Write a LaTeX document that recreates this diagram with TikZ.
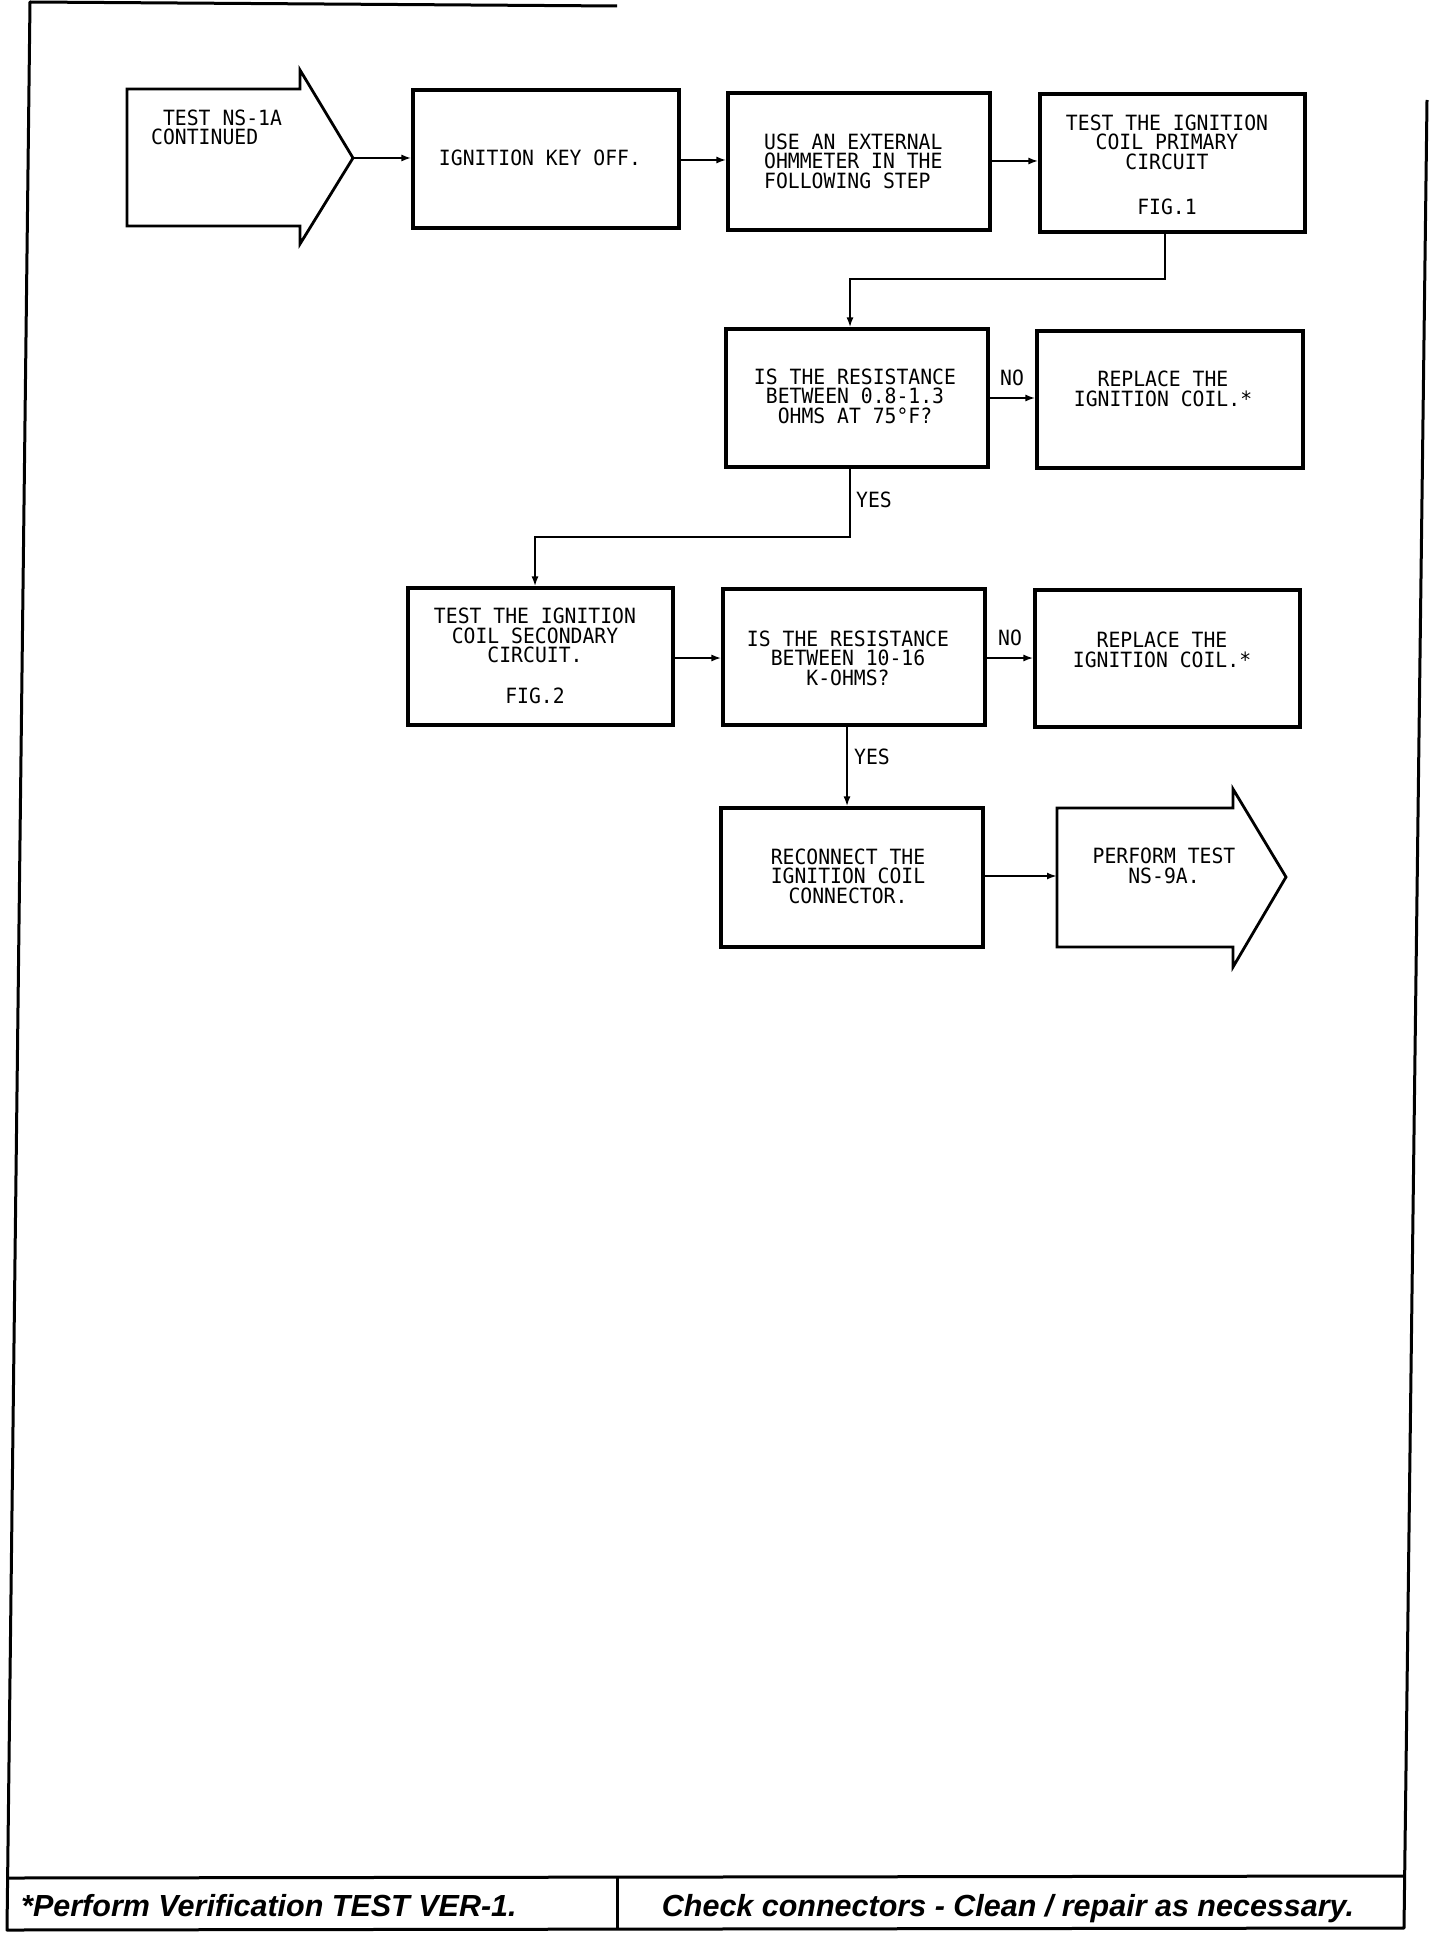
\documentclass[tikz,border=0pt]{standalone}
\usepackage{fontspec}
\newfontfamily\plotfont[FakeStretch=0.94]{DejaVu Sans Mono}
\newfontfamily\footfont{Liberation Sans}
\usetikzlibrary{arrows.meta}
\tikzset{
  frameline/.style={line width=3pt, line join=round},
  stepbox/.style={draw, line width=3.1pt, rectangle, inner sep=0pt},
  bigarrow/.style={draw, line width=2.8pt, line join=miter},
  txt/.style={inner sep=0pt, align=center, font=\plotfont\fontsize{21}{19.5}\selectfont},
  conn/.style={line width=2.4pt, -{Latex[length=10pt,width=7pt]}},
  foot/.style={inner sep=0pt, font=\footfont\bfseries\itshape\fontsize{30.5}{36}\selectfont}
}
\begin{document}
\begin{tikzpicture}[x=1pt,y=-1pt]
\useasboundingbox (0,0) rectangle (1440,1934);
% frame
\draw[frameline] (617,6) -- (30,2) -- (7,1930) -- (1404,1928) -- (1427,100);
\draw[frameline] (8,1878) -- (1405,1876);
\draw[frameline] (617,1878) -- (617,1929);
\node[foot, anchor=base west] (fl) at (21,1916) {*Perform Verification TEST VER-1.};
\node[foot, anchor=base] (fr) at (1008,1916) {Check connectors - Clean / repair as necessary.};

% start arrow
\draw[bigarrow] (127,89) -- (300,89) -- (300,70) -- (353,158) -- (300,244) -- (300,226) -- (127,226) -- cycle;
\coordinate (starttip) at (353,158);
\node[txt, anchor=west, align=left] (t1) at (151,127.5) {\hphantom{T}TEST NS-1A\\CONTINUED};

% boxes
\node[stepbox, minimum width=266pt, minimum height=138pt] (b2) at (546,159) {};
\node[stepbox, minimum width=262pt, minimum height=137pt] (b3) at (859,161.5) {};
\node[stepbox, minimum width=265pt, minimum height=138pt] (b4) at (1172.5,163) {};
\node[stepbox, minimum width=262pt, minimum height=138pt] (b5) at (857,398) {};
\node[stepbox, minimum width=266pt, minimum height=137pt] (b6) at (1170,399.5) {};
\node[stepbox, minimum width=265pt, minimum height=137pt] (b7) at (540.5,656.5) {};
\node[stepbox, minimum width=262pt, minimum height=136pt] (b8) at (854,657) {};
\node[stepbox, minimum width=265pt, minimum height=137pt] (b9) at (1167.5,658.5) {};
\node[stepbox, minimum width=262pt, minimum height=139pt] (b10) at (852,877.5) {};

% end arrow
\draw[bigarrow] (1057,808) -- (1233,808) -- (1233,789) -- (1286,877) -- (1233,967) -- (1233,947) -- (1057,947) -- cycle;
\coordinate (endin) at (1057,876);

% texts
\node[txt] (t2) at (540,158) {IGNITION KEY OFF.};
\node[txt, anchor=west, align=left] (t3) at (764,161) {USE AN EXTERNAL\\OHMMETER IN THE\\FOLLOWING STEP};
\node[txt] (t4) at (1167,165) {TEST THE IGNITION\\COIL PRIMARY\\CIRCUIT\\[26pt]FIG.1};
\node[txt] (t5) at (855,396) {IS THE RESISTANCE\\BETWEEN 0.8-1.3\\OHMS AT 75°F?};
\node[txt] (t6) at (1163,389) {REPLACE THE\\IGNITION COIL.*};
\node[txt] (t7) at (535,656) {TEST THE IGNITION\\COIL SECONDARY\\CIRCUIT.\\[21pt]FIG.2};
\node[txt] (t8) at (848,658) {IS THE RESISTANCE\\BETWEEN 10-16\\K-OHMS?};
\node[txt] (t9) at (1162,650) {REPLACE THE\\IGNITION COIL.*};
\node[txt] (t10) at (848,876) {RECONNECT THE\\IGNITION COIL\\CONNECTOR.};
\node[txt] (t11) at (1164,866) {PERFORM TEST\\NS-9A.};

% connectors
\draw[conn] (starttip) -- (starttip -| b2.west);
\draw[conn] (b2.east |- 0,160) -- (b3.west |- 0,160);
\draw[conn] (b3.east |- 0,161) -- (b4.west |- 0,161);
\coordinate (j1) at (1165,279);
\coordinate (j2) at (850,279);
\draw[conn] (j1 |- b4.south) -- (j1) -- (j2) -- (j2 |- b5.north);
\draw[conn] (b5.east |- 0,398) -- (b6.west |- 0,398);
\node[txt] (no1) at (1012,378) {NO};
\coordinate (j3) at (850,537);
\coordinate (j4) at (535,537);
\draw[conn] (j3 |- b5.south) -- (j3) -- (j4) -- (j4 |- b7.north);
\node[txt] (yes1) at (874,500) {YES};
\draw[conn] (b7.east |- 0,658) -- (b8.west |- 0,658);
\draw[conn] (b8.east |- 0,658) -- (b9.west |- 0,658);
\node[txt] (no2) at (1010,638) {NO};
\coordinate (j5) at (847,700);
\draw[conn] (j5 |- b8.south) -- (j5 |- b10.north);
\node[txt] (yes2) at (872,757) {YES};
\draw[conn] (b10.east |- endin) -- (endin);
\end{tikzpicture}
\end{document}
